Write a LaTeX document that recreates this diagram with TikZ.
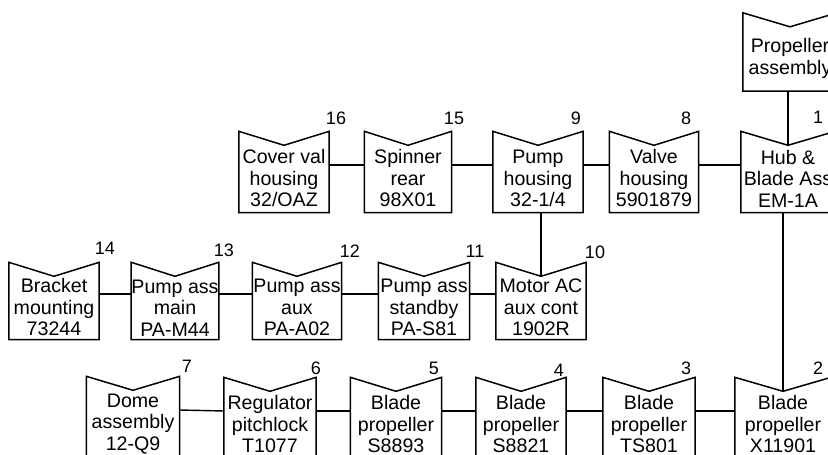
\documentclass[tikz,border=0pt]{standalone}
\usepackage{fontspec}
\usepackage{tikz}
\usetikzlibrary{positioning}
\newfontfamily\partfont{Liberation Sans}
\newcommand{\notchdepth}{14pt}
\newcommand{\fl}{\rule{0pt}{27pt}}
\tikzset{
  part/.style={font=\partfont\fontsize{19.6}{21.5}\selectfont, align=center, inner sep=0pt,
    minimum width=90pt, minimum height=81pt},
  num/.style={font=\partfont\fontsize{18}{18}\selectfont, inner sep=0pt},
  outline/.style={line width=1.5pt, line join=miter},
  link/.style={line width=1.4pt}
}

\begin{document}
\begin{tikzpicture}[x=1pt,y=-1pt]
    \clip (0,0) rectangle (828,455);
    % top: propeller assembly
    \node[part, minimum width=94pt, minimum height=78pt] (prop) at (790,52) {\fl Propeller\\assembly};
    % first row
    \node[part] (cover) at (284,172) {\fl Cover val\\housing\\32/OAZ};
    \node[part, minimum width=87pt] (spinner) at (408,172) {\fl Spinner\\rear\\98X01};
    \node[part] (pumph) at (538,172) {\fl Pump\\housing\\32-1/4};
    \node[part, minimum width=89pt] (valve) at (654,172) {\fl Valve\\housing\\5901879};
    \node[part, minimum width=94pt] (hub) at (788,172) {\fl Hub \&\\Blade Ass\\EM-1A};
    % second row
    \node[part, minimum height=77pt] (bracket) at (54,301) {\fl Bracket\\mounting\\73244};
    \node[part, minimum height=77pt, minimum width=86pt] (pmain) at (175,301) {\fl Pump ass\\main\\PA-M44};
    \node[part, minimum height=77pt, minimum width=89pt] (paux) at (297,301) {\fl Pump ass\\aux\\PA-A02};
    \node[part, minimum height=77pt, minimum width=91pt] (pstandby) at (424,301) {\fl Pump ass\\standby\\PA-S81};
    \node[part, minimum height=77pt] (motor) at (541,301) {\fl Motor AC\\aux cont\\1902R};
    % third row
    \node[part, minimum width=93pt] (dome) at (133,417) {\fl Dome\\assembly\\12-Q9};
    \node[part, minimum width=92pt] (regulator) at (270,418) {\fl Regulator\\pitchlock\\T1077};
    \node[part, minimum width=91pt] (bS8893) at (396,418) {\fl Blade\\propeller\\S8893};
    \node[part] (bS8821) at (521,418) {\fl Blade\\propeller\\S8821};
    \node[part, minimum width=92pt] (bTS801) at (649,418) {\fl Blade\\propeller\\TS801};
    \node[part, minimum width=96pt] (bX11901) at (783,418) {\fl Blade\\propeller\\X11901};
    % item numbers
    \node[num] (n1) at (818,117) {1};
    \node[num] (n2) at (818,368) {2};
    \node[num] (n3) at (686,368) {3};
    \node[num] (n4) at (559,370) {4};
    \node[num] (n5) at (434,368) {5};
    \node[num] (n6) at (316,368) {6};
    \node[num] (n7) at (187,366) {7};
    \node[num] (n8) at (686,118) {8};
    \node[num] (n9) at (576,118) {9};
    \node[num] (n10) at (595,252) {10};
    \node[num] (n11) at (475,251) {11};
    \node[num] (n12) at (350,251) {12};
    \node[num] (n13) at (224,250) {13};
    \node[num] (n14) at (105,248) {14};
    \node[num] (n15) at (454,118) {15};
    \node[num] (n16) at (336,118) {16};
    % notched outlines
    \foreach \n in {prop,cover,spinner,pumph,valve,hub,bracket,pmain,paux,pstandby,motor,
                    dome,regulator,bS8893,bS8821,bTS801,bX11901}
        \draw[outline] (\n.north west) -- ([yshift=-\notchdepth]\n.north) -- (\n.north east)
            |- (\n.south west) -- cycle;
    % horizontal links
    \foreach \a/\b in {cover/spinner,spinner/pumph,pumph/valve,valve/hub,
                       bracket/pmain,pmain/paux,paux/pstandby,pstandby/motor,
                       dome/regulator,regulator/bS8893,bS8893/bS8821,bS8821/bTS801,bTS801/bX11901}
        \draw[link] ([yshift=7pt]\a.east) -- ([yshift=7pt]\b.west);
    % vertical links into the notches
    \draw[link] (hub.north |- prop.south) -- ([yshift=-\notchdepth]hub.north);
    \draw[link] (motor.north |- pumph.south) -- ([yshift=-\notchdepth]motor.north);
    \draw[link] (bX11901.north |- hub.south) -- ([yshift=-\notchdepth]bX11901.north);
  \end{tikzpicture}
\end{document}
